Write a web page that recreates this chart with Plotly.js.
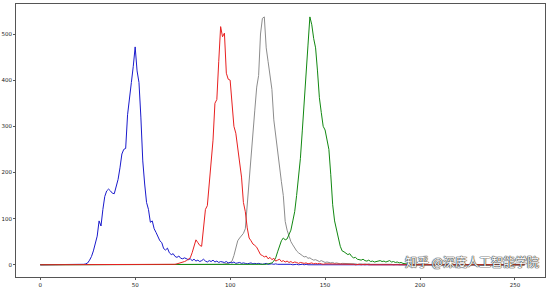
<!DOCTYPE html>
<html>
<head>
<meta charset="utf-8">
<script src="https://cdn.plot.ly/plotly-3.0.1.min.js"></script>
<style>html,body{margin:0;padding:0;background:#fff;}#chart{width:553px;height:287px;}</style>
</head>
<body>
<div id="chart"></div>
<script>
const blueHist = [
0,0,0,0,0,0,0,0,0,0,
0,0,0,0,0,1,0,0,1,0,
1,0,1,1,2,4,10,18,30,48,
62,95,84,120,148,160,164,160,155,154,
168,185,210,240,250,252,325,355,395,430,
472,420,395,320,225,175,135,120,92,95,
78,70,62,52,48,35,32,36,26,22,
24,18,16,19,14,13,15,12,11,13,
9,12,8,10,7,9,12,8,6,9,
7,10,6,8,5,7,6,5,7,4,
5,4,6,3,4,5,3,4,3,2,
3,4,2,3,2,3,2,1,2,3,
1,2,2,1,2,1,1,2,1,1,
2,1,1,0,1,1,0,1,1,0,
1,0,0,1,0,0,1,0,0,0,
0,0,0,0,0,0,0,0,0,0,
0,0,0,0,0,0,0,0,0,0,
0,0,0,0,0,0,0,0,0,0,
0,0,0,0,0,0,0,0,0,0,
0,0,0,0,0,0,0,0,0,0,
0,0,0,0,0,0,0,0,0,0,
0,0,0,0,0,0,0,0,0,0,
0,0,0,0,0,0,0,0,0,0,
0,0,0,0,0,0,0,0,0,0,
0,0,0,0,0,0,0,0,0,0,
0,0,0,0,0,0
];
const redHist = [
0,0,0,0,0,0,0,0,0,0,
0,0,0,0,0,0,0,0,0,0,
0,0,0,0,0,0,0,0,0,0,
0,0,0,0,0,0,0,0,0,0,
0,0,0,0,0,0,0,0,0,0,
0,0,0,0,0,0,0,0,0,0,
0,0,0,0,0,0,0,0,0,0,
1,1,2,3,4,5,7,9,12,15,
26,40,54,48,42,40,80,120,128,170,
225,270,350,358,440,516,494,502,415,402,
400,345,300,285,250,220,190,135,115,80,
58,52,45,42,38,30,22,20,17,19,
13,16,11,14,8,10,12,7,9,6,
8,5,7,4,6,5,3,5,4,3,
4,2,3,4,2,3,2,3,2,1,
2,2,1,2,1,2,1,1,2,1,
1,1,2,1,1,1,0,1,1,0,
1,0,1,0,0,1,0,0,1,0,
0,0,0,0,0,0,0,0,0,0,
0,0,0,0,0,0,0,0,0,0,
0,0,0,0,0,0,0,0,0,0,
0,0,0,0,0,0,0,0,0,0,
0,0,0,0,0,0,0,0,0,0,
0,0,0,0,0,0,0,0,0,0,
0,0,0,0,0,0,0,0,0,0,
0,0,0,0,0,0
];
const grayHist = [
0,0,0,0,0,0,0,0,0,0,
0,0,0,0,0,0,0,0,0,0,
0,0,0,0,0,0,0,0,0,0,
0,0,0,0,0,0,0,0,0,0,
0,0,0,0,0,0,0,0,0,0,
0,0,0,0,0,0,0,0,0,0,
0,0,0,0,0,0,0,0,0,0,
0,0,0,0,0,0,0,0,0,0,
0,0,0,0,0,0,0,0,0,0,
0,0,0,0,0,1,1,2,2,3,
5,8,20,40,52,58,62,68,78,130,
195,250,300,335,385,410,500,534,537,470,
440,408,380,314,278,240,202,180,150,94,
75,62,50,43,36,30,26,22,20,17,
18,14,15,12,10,11,8,7,9,6,
5,6,5,4,5,3,4,3,2,3,
3,2,3,2,2,3,2,1,2,2,
1,2,1,2,1,1,2,1,1,2,
1,1,2,1,1,1,0,1,1,0,
0,0,0,0,0,0,0,0,0,0,
0,0,0,0,0,0,0,0,0,0,
0,0,0,0,0,0,0,0,0,0,
0,0,0,0,0,0,0,0,0,0,
0,0,0,0,0,0,0,0,0,0,
0,0,0,0,0,0,0,0,0,0,
0,0,0,0,0,0
];
const greenHist = [
0,0,0,0,0,0,0,0,0,0,
0,0,0,0,0,0,0,0,0,0,
0,0,0,0,0,0,0,0,0,0,
0,0,0,0,0,0,0,0,0,0,
0,0,0,0,0,0,0,0,0,0,
0,0,0,0,0,0,0,0,0,0,
0,0,0,0,0,0,0,0,0,0,
0,0,0,0,0,0,0,0,0,0,
0,0,0,0,0,0,0,0,0,0,
0,0,0,0,0,0,0,0,0,0,
0,0,0,0,0,0,0,0,0,0,
0,0,0,0,0,0,0,0,1,1,
2,3,4,8,15,28,43,52,58,54,
56,65,75,95,115,150,190,230,290,345,
410,476,537,520,490,470,420,362,330,300,
292,268,250,195,130,95,72,58,40,30,
28,25,22,24,18,15,16,12,11,10,
12,9,8,10,7,8,6,7,8,9,
7,8,6,7,9,6,7,5,6,4,
5,3,2,2,1,1,0,0,0,0,
0,0,0,0,0,0,0,0,0,0,
0,0,0,0,0,0,0,0,0,0,
0,0,0,0,0,0,0,0,0,0,
0,0,0,0,0,0,0,0,0,0,
0,0,0,0,0,0,0,0,0,0,
0,0,0,0,0,0
];
const xTicks = [0, 50, 100, 150, 200, 250];
const yTicks = [0, 100, 200, 300, 400, 500];
const watermark = "知乎 @深度人工智能学院";

const bins = blueHist.map((_, i) => i);
const mk = (y, color) => ({x: bins, y: y, type: 'scatter', mode: 'lines',
  line: {color: color, width: 1}, hoverinfo: 'skip'});
const traces = [
  mk(grayHist, '#8c8c8c'),
  mk(blueHist, '#1a1acc'),
  mk(greenHist, '#118811'),
  mk(redHist, '#e82020')
];
const axisCommon = {showgrid: false, zeroline: false, showline: true, mirror: true,
  linecolor: '#555', linewidth: 1, ticks: 'outside', ticklen: 2, tickcolor: '#555',
  tickfont: {family: 'DejaVu Sans', size: 5.5, color: '#222'}};
const layout = {
  width: 553, height: 287,
  margin: {l: 16, r: 8, t: 4, b: 10},
  paper_bgcolor: '#fff', plot_bgcolor: '#fff',
  showlegend: false,
  xaxis: Object.assign({}, axisCommon, {range: [-12.75, 265.8], tickvals: xTicks, ticktext: xTicks.map(String)}),
  yaxis: Object.assign({}, axisCommon, {range: [-26.5, 565], tickvals: yTicks, ticktext: yTicks.map(String)}),
  annotations: [{
    text: watermark, xref: 'paper', yref: 'paper', x: 0.862, y: 0.055,
    xanchor: 'center', yanchor: 'middle', showarrow: false,
    font: {family: 'Noto Sans CJK SC', size: 12, color: '#ffffff',
      shadow: '0 0 1px #444, 0 0 1px #444, 0 0 1px #444, 0 0 1px #444'}
  }]
};
Plotly.newPlot('chart', traces, layout, {staticPlot: true, displayModeBar: false});
</script>
</body>
</html>
